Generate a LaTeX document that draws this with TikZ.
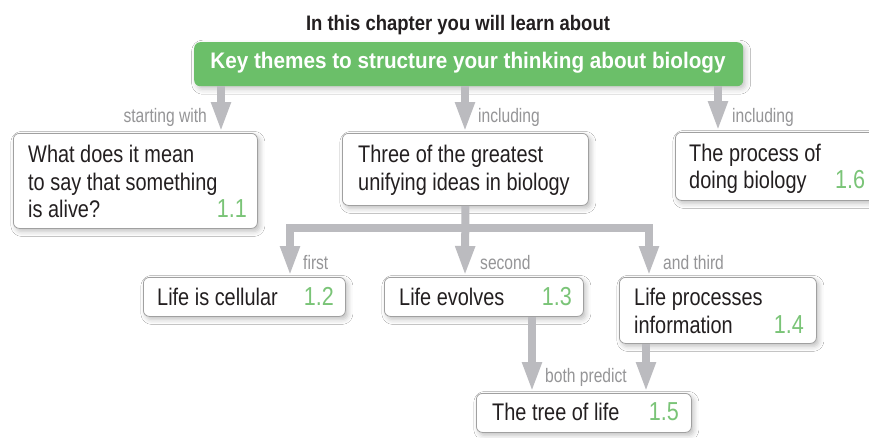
\documentclass[tikz,border=0pt]{standalone}
\usepackage{fontspec}
\setmainfont{Liberation Sans}
\newfontfamily\bodyfont{Liberation Sans}[FakeStretch=0.83]
\newfontfamily\lblfont{Liberation Sans}[FakeStretch=0.8]
\newfontfamily\headfont{Liberation Sans Bold}[FakeStretch=0.88]
\newfontfamily\keyfont{Liberation Sans Bold}[FakeStretch=0.92]
\usetikzlibrary{arrows.meta,shadows.blur}

\definecolor{leaf}{HTML}{6BBF69}
\definecolor{numgreen}{HTML}{7AC477}
\definecolor{arrgray}{HTML}{BBBBBF}
\definecolor{edge}{HTML}{A0A0A0}
\definecolor{ink}{HTML}{231F20}
\definecolor{labelgray}{HTML}{959597}

\begin{document}
\begin{tikzpicture}[x=1pt,y=-1pt,
  box/.style={draw=edge, line width=0.8pt, rounded corners=6pt, fill=white,
    inner sep=0pt, anchor=north west,
    blur shadow={shadow xshift=2.5pt, shadow yshift=-3pt,
      shadow blur radius=5pt, shadow opacity=25}},
  keybox/.style={fill=leaf, rounded corners=6pt, inner sep=0pt, anchor=north west,
    blur shadow={shadow xshift=2.5pt, shadow yshift=-3pt,
      shadow blur radius=5pt, shadow opacity=22}},
  txt/.style={font=\bodyfont\fontsize{24}{28}\selectfont, text=ink, inner sep=0pt, anchor=base west},
  num/.style={font=\bodyfont\fontsize{26}{28}\selectfont, text=numgreen, inner sep=0pt, anchor=base east},
  lbl/.style={font=\lblfont\fontsize{19.5}{22}\selectfont, text=labelgray, inner sep=0pt, anchor=base west},
  arr/.style={draw=arrgray, line width=8pt, line join=miter,
    -{Triangle[length=30pt,width=18pt]}}
]
\fill[white] (0,0) rectangle (869,437);
\useasboundingbox (0,0) rectangle (869,437);

% heading and the main theme
\node[font=\headfont\fontsize{21}{24}\selectfont, text=ink, inner sep=0pt, anchor=base]
  (title) at (458,30) {In this chapter you will learn about};
\node[keybox, minimum width=549pt, minimum height=44pt] (key) at (194,42) {};
\node[font=\keyfont\fontsize{22.5}{26}\selectfont, text=white, inner sep=0pt, anchor=base]
  (keyt) at (468,68) {Key themes to structure your thinking about biology};

% first row of boxes
\node[box, minimum width=244pt, minimum height=95pt] (b11) at (13,133) {};
\node[txt] (b11a) at (28,162) {What does it mean};
\node[txt] (b11b) at (28,190) {to say that something};
\node[txt] (b11c) at (28,217) {is alive?};
\node[num] (n11) at (247,217) {1.1};

\node[box, minimum width=246pt, minimum height=72pt] (b3u) at (342,133) {};
\node[txt] (b3ua) at (358,162) {Three of the greatest};
\node[txt] (b3ub) at (358,190) {unifying ideas in biology};

\node[box, minimum width=220pt, minimum height=68pt] (b16) at (675,132) {};
\node[txt] (b16a) at (689,161) {The process of};
\node[txt] (b16b) at (689,188) {doing biology};
\node[num, anchor=base west] (n16) at (835,188) {1.6};

% second row of boxes
\node[box, minimum width=202pt, minimum height=39pt] (b12) at (143,277) {};
\node[txt] (b12a) at (157,305) {Life is cellular};
\node[num] (n12) at (334,305) {1.2};

\node[box, minimum width=199pt, minimum height=39pt] (b13) at (384,277) {};
\node[txt] (b13a) at (399,305) {Life evolves};
\node[num] (n13) at (572,305) {1.3};

\node[box, minimum width=197pt, minimum height=66pt] (b14) at (619,277) {};
\node[txt] (b14a) at (634,305) {Life processes};
\node[txt] (b14b) at (634,333) {information};
\node[num] (n14) at (804,333) {1.4};

% bottom box
\node[box, minimum width=215pt, minimum height=39pt] (b15) at (476,393) {};
\node[txt] (b15a) at (492,420) {The tree of life};
\node[num] (n15) at (679,420) {1.5};

% arrow end points on the box edges
\coordinate (t11) at (221,132);
\coordinate (t3u) at (465,132);
\coordinate (t16) at (718,131);
\coordinate (j) at (465,228);
\coordinate (t12) at (290,276);
\coordinate (t13) at (465,276);
\coordinate (t14) at (649,276);
\coordinate (f13) at (532,316);
\coordinate (f14) at (646,343);
\coordinate (t15a) at (532,392);
\coordinate (t15b) at (646,392);

% connectors
\draw[arr] (t11 |- key.south) -- (t11);
\draw[arr] (t3u |- key.south) -- (t3u);
\draw[arr] (t16 |- key.south) -- (t16);
\draw[arr] (b3u.south) -- (t13);
\draw[arr] (j) -| (t12);
\draw[arr] (j) -| (t14);
\draw[arr] (f13 |- b13.south) -- (t15a);
\draw[arr] (f14 |- b14.south) -- (t15b);

% connector labels
\node[lbl, anchor=base east] (l1) at (207,122) {starting with};
\node[lbl] (l2) at (478,122) {including};
\node[lbl] (l3) at (732,122) {including};
\node[lbl] (l4) at (303,269) {first};
\node[lbl] (l5) at (480,269) {second};
\node[lbl] (l6) at (663,269) {and third};
\node[lbl] (l7) at (545,382) {both predict};
\end{tikzpicture}
\end{document}
